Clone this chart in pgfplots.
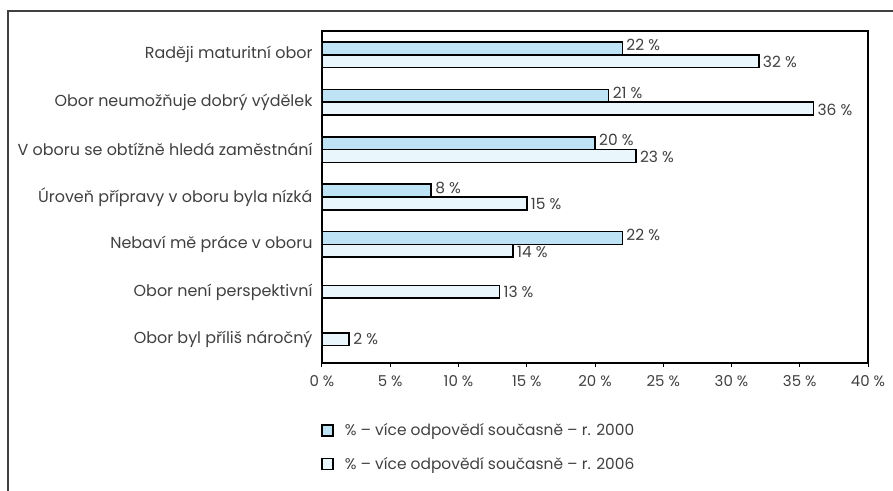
\documentclass[border=0pt]{standalone}
\usepackage{fontspec}
\setmainfont{Poppins}
\usepackage{pgfplots}
\pgfplotsset{compat=1.18}
\definecolor{barA}{HTML}{BDE3F5}
\definecolor{barB}{HTML}{E9F6FC}
\definecolor{txt}{HTML}{404040}
\pgfplotsset{boxlegend/.style={legend image code/.code={\draw[##1,line width=1.6bp] (0bp,-5.5bp) rectangle (11bp,5.5bp);\path (20bp,0bp);}}}
\begin{document}
\begin{tikzpicture}[x=1bp,y=1bp]
\begin{axis}[
  at={(0,0)},anchor=south west,
  scale only axis,width=546bp,height=332bp,
  xbar,bar width=0.27,
  xmin=0,xmax=40,ymin=-0.5,ymax=6.5,
  axis line style={line width=1.6bp,black},
  xtick={0,5,...,40},xtick pos=bottom,tick align=outside,
  major tick length=4bp,x tick style={line width=1bp,black},
  xticklabel={\pgfmathprintnumber{\tick} \%},
  /pgf/number format/assume math mode=true,
  ytick={0,...,6},y tick style={draw=none},
  yticklabels={Obor byl příliš náročný,Obor není perspektivní,Nebaví mě práce v oboru,Úroveň přípravy v oboru byla nízká,V oboru se obtížně hledá zaměstnání,Obor neumožňuje dobrý výdělek,Raději maturitní obor},
  yticklabel style={font=\fontsize{16}{19}\selectfont,text=txt,xshift=-2bp},
  xticklabel style={font=\fontsize{15}{18}\selectfont,text=txt,yshift=-5bp},
  nodes near coords={\pgfmathprintnumber{\pgfplotspointmeta} \%},
  nodes near coords style={font=\fontsize{15.5}{18}\selectfont,text=txt,anchor=west,xshift=0bp},
  legend style={at={(0,-0.17)},anchor=north west,xshift=-4bp,draw=none,fill=none,
    font=\fontsize{15.5}{18}\selectfont,text=txt,row sep=16bp},
  legend cell align=left,
]
\addplot[fill=barA,draw=black,line width=1.6bp,bar shift=0.135,
  nodes near coords style={yshift=3bp},boxlegend]
  coordinates {(22,6) (21,5) (20,4) (8,3) (22,2)};
\addlegendentry{\% -- více odpovědí současně -- r. 2000}
\addplot[fill=barB,draw=black,line width=1.6bp,bar shift=-0.135,
  nodes near coords style={yshift=-1bp},boxlegend]
  coordinates {(32,6) (36,5) (23,4) (15,3) (14,2)};
\addlegendentry{\% -- více odpovědí současně -- r. 2006}
\addplot[fill=barB,draw=black,line width=1.6bp,bar shift=0,forget plot]
  coordinates {(13,1) (2,0)};
\end{axis}
\draw[line width=1.5bp,black!75] (-314,-130) -- (-314,352) -- (575,352);
\pgfresetboundingbox
\path (-322,-128) rectangle (571,363);
\end{tikzpicture}
\end{document}
